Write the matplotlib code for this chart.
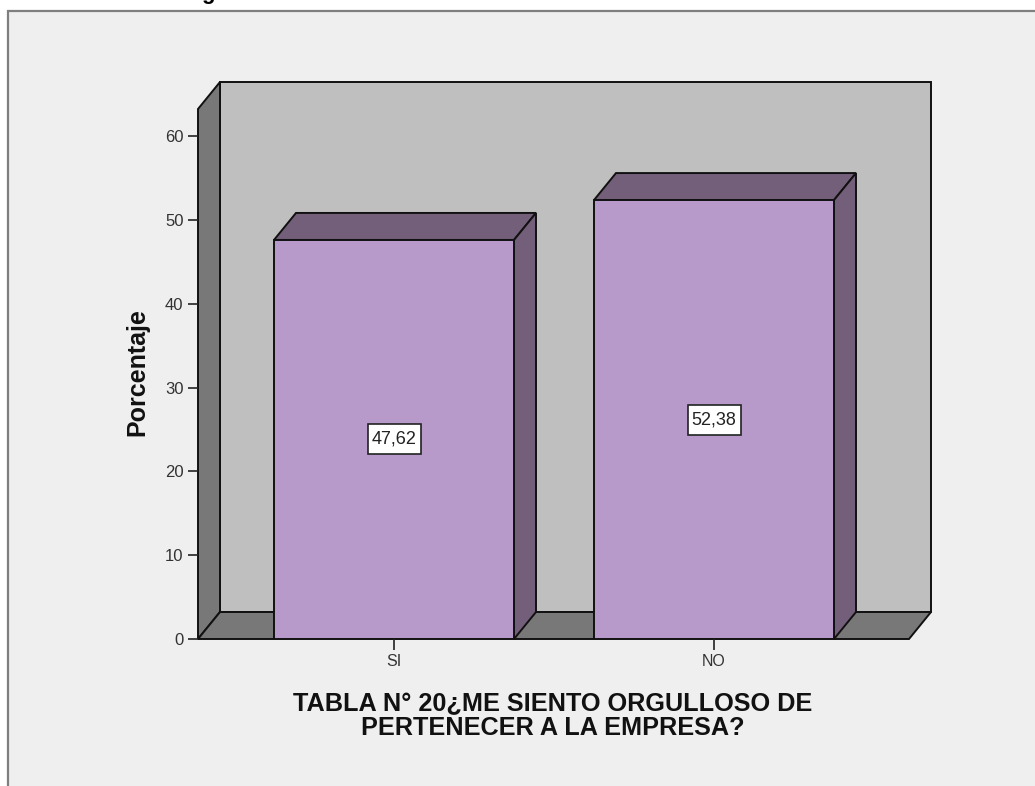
import matplotlib
matplotlib.use("Agg")
import matplotlib.pyplot as plt
from matplotlib.patches import Polygon, Rectangle

categories = ["SI", "NO"]
values = [47.62, 52.38]
value_labels = ["47,62", "52,38"]
y_ticks = [0, 10, 20, 30, 40, 50, 60]

W, H = 1035, 786
plt.rcParams["font.family"] = ["Liberation Sans", "DejaVu Sans"]

fig = plt.figure(figsize=(W / 100, H / 100), dpi=100, facecolor="white")

# grey panel behind the plot, only top and left edges are visible
fig.patches.append(Rectangle((7.5 / W, -20 / H), (W + 10) / W, 1 - 10.5 / H + 20 / H, transform=fig.transFigure,
                             facecolor="#efefef", edgecolor="#7f7f7f", linewidth=1.6, zorder=-5))
fig.text(208 / W, 1 + 1 / H, "g", fontsize=16, fontweight="bold", ha="center", va="baseline", color="black")

ax = fig.add_axes([198 / W, 1 - 639 / H, (909 - 198) / W, (639 - 109) / H])
ax.patch.set_alpha(0)
ax.set_ylim(0, 530 / 8.38)
ax.set_xlim(-196 / 320, 515 / 320)
for s in ax.spines.values():
    s.set_visible(False)

# depth of the fake 3d box, in data units
dx = 22 / 320
dy = 27 / 8.38
x0, x1 = ax.get_xlim()
top = ax.get_ylim()[1]
wall = "#bfbfbf"
side = "#787878"
front = "#b79ac9"
dark = "#745f7b"


def face(points, color, z):
    ax.add_patch(Polygon(points, closed=True, facecolor=color, edgecolor="#111111",
                         linewidth=1.4, joinstyle="miter", clip_on=False, zorder=z))


face([(x0 + dx, dy), (x1 + dx, dy), (x1 + dx, top + dy), (x0 + dx, top + dy)], wall, 1)
face([(x0, 0), (x0 + dx, dy), (x0 + dx, top + dy), (x0, top)], side, 1.1)
face([(x0, 0), (x1, 0), (x1 + dx, dy), (x0 + dx, dy)], side, 1.2)

width = 0.75
# half size of the white value boxes, in data units
box_w = 26.5 / 320
box_h = 15 / 8.38
xs = list(range(len(categories)))
ax.bar(xs, values, width=width, color=front, edgecolor="#111111", linewidth=1.4, zorder=3)
for x, v, lab in zip(xs, values, value_labels):
    l, r = x - width / 2, x + width / 2
    face([(l, v), (r, v), (r + dx, v + dy), (l + dx, v + dy)], dark, 2.5)
    face([(r, 0), (r + dx, dy), (r + dx, v + dy), (r, v)], dark, 2.5)
    ax.add_patch(Rectangle((x - box_w, v / 2 - box_h), 2 * box_w, 2 * box_h, facecolor="white",
                           edgecolor="#222222", linewidth=1.2, zorder=4))
    ax.text(x, v / 2, lab, ha="center", va="center", fontsize=13, color="#222222", zorder=5)

ax.set_xticks(xs)
ax.set_xticklabels(categories)
ax.set_yticks(y_ticks)
ax.tick_params(axis="x", length=8, width=1.2, color="#222222", labelsize=11.5, labelcolor="#333333", pad=3)
ax.tick_params(axis="y", length=7.5, width=1.2, color="#222222", labelsize=12, labelcolor="#333333", pad=3)

fig.text(137 / W, 1 - 372 / H, "Porcentaje", rotation=90, ha="center", va="center",
         fontsize=18, fontweight="bold", color="#111111")
fig.text(553 / W, 1 - 716 / H, "TABLA N° 20¿ME SIENTO ORGULLOSO DE\nPERTENECER A LA EMPRESA?",
         ha="center", va="center", fontsize=18.2, fontweight="bold", color="#111111", linespacing=1.0)

fig.savefig("out.png", dpi=100, facecolor=fig.get_facecolor())
